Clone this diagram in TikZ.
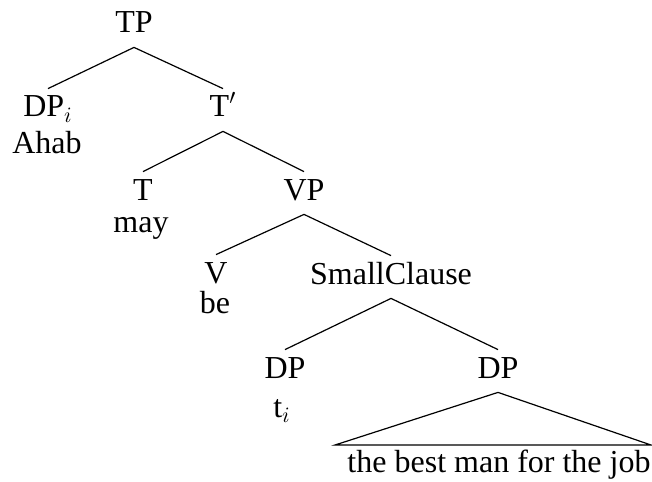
\documentclass[tikz,border=0pt]{standalone}
\usepackage{fontspec}
\setmainfont{Liberation Serif}
\begin{document}
\begin{tikzpicture}[x=0.5pt,y=-0.5pt,
  cat/.style={anchor=base,inner sep=0pt,text height=14pt,text depth=7pt,font=\fontsize{16}{19}\selectfont},
  word/.style={anchor=base,inner sep=0pt,font=\fontsize{16}{19}\selectfont},
  branch/.style={line width=0.6pt}]
\useasboundingbox (0,0) rectangle (652,481);
\node[cat] (TP) at (134,33) {TP};
\node[cat] (DPi) at (48,117) {DP$_i$};
\node[word] (Ahab) at (47,153) {Ahab};
\node[cat] (Tbar) at (223,117) {T$'$};
\node[cat] (T) at (143,200) {T};
\node[word] (may) at (141,232) {may};
\node[cat] (VP) at (304,200) {VP};
\node[cat] (V) at (216,283) {V};
\node[word] (be) at (215,313) {be};
\node[cat] (SC) at (391,284) {SmallClause};
\node[cat] (DPa) at (285,378) {DP};
\node[word] (ti) at (282,417) {t$_i$};
\node[cat] (DPb) at (498,378) {DP};
\node[word] (leaf) at (499,472) {the best man for the job};
\coordinate (bl) at (335,445);
\coordinate (br) at (651,445);
\draw[branch] (TP.south) -- (DPi.north);
\draw[branch] (TP.south) -- (Tbar.north);
\draw[branch] (Tbar.south) -- (T.north);
\draw[branch] (Tbar.south) -- (VP.north);
\draw[branch] (VP.south) -- (V.north);
\draw[branch] (VP.south) -- (SC.north);
\draw[branch] (SC.south) -- (DPa.north);
\draw[branch] (SC.south) -- (DPb.north);
\draw[branch] (DPb.south) -- (bl) -- (br) -- cycle;
\end{tikzpicture}
\end{document}
